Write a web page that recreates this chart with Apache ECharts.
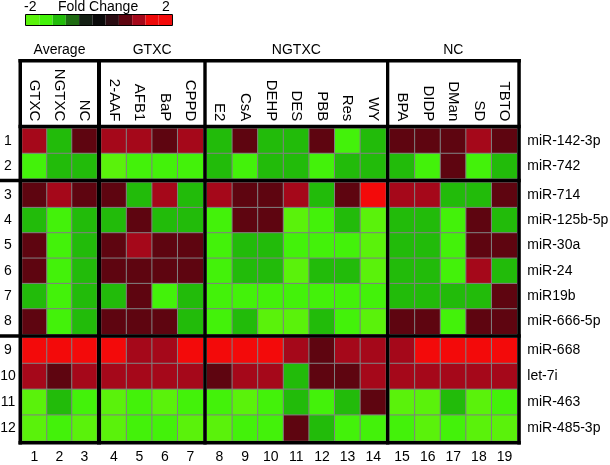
<!DOCTYPE html>
<html><head><meta charset="utf-8">
<script src="https://cdn.jsdelivr.net/npm/echarts@6/dist/echarts.min.js"></script>
<style>html,body{margin:0;padding:0;background:#fff}#c{width:610px;height:465px}</style>
</head><body><div id="c"></div>
<script>
// ---- data ----
const groupTitles = ['Average', 'GTXC', 'NGTXC', 'NC'];
const groupSizes = [3, 4, 7, 5];
const colNames = ['GTXC','NGTXC','NC','2-AAF','AFB1','BaP','CPPD','E2','CsA','DEHP','DES','PBB','Res','WY','BPA','DIDP','DMan','SD','TBTO'];
const colNumbers = ['1','2','3','4','5','6','7','8','9','10','11','12','13','14','15','16','17','18','19'];
const rowNumbers = ['1','2','3','4','5','6','7','8','9','10','11','12'];
const rowNames = ['miR-142-3p','miR-742','miR-714','miR-125b-5p','miR-30a','miR-24','miR19b','miR-666-5p','miR-668','let-7i','miR-463','miR-485-3p'];
const rowBands = [2, 6, 4];
const foldChange = [
  [1.12,-1.05,0.72,1.1,1.15,0.78,1.08,-1.1,0.7,-1.12,-1.08,0.75,-1.48,-1.05,0.7,0.74,0.68,1.16,0.72],
  [-1.42,-1.1,-1.05,-1.82,-1.5,-1.45,-1.4,-1.08,-1.52,-1.1,-1.15,-1.44,-1.06,-1.12,-1.1,-1.48,0.7,-1.46,-1.08],
  [0.7,1.12,0.74,0.72,-1.1,1.15,-1.08,1.1,0.7,0.76,1.08,-1.12,0.68,1.9,1.1,1.14,-1.06,-1.1,0.72],
  [-1.1,-1.48,-1.05,-1.12,0.7,-1.08,-1.1,-1.44,0.72,0.7,-1.8,-1.5,-1.12,-1.84,-1.06,-1.1,-1.46,0.7,-1.08],
  [0.72,-1.46,-1.1,0.7,1.12,0.74,0.68,-1.5,-1.08,-1.12,-1.42,-1.45,-1.48,-1.86,-1.1,-1.06,-1.44,0.7,0.74],
  [0.7,-1.5,-1.08,0.72,0.68,0.74,0.7,-1.46,-1.1,-1.05,-1.82,-1.1,-1.12,-1.8,-1.08,-1.1,-1.48,1.1,-1.06],
  [-1.12,-1.48,-1.06,-1.1,0.72,-1.5,-1.08,-1.46,-1.44,-1.5,-1.42,-1.46,-1.48,-1.45,-1.1,-1.08,-1.12,-1.06,0.7],
  [0.74,-1.5,-1.1,0.7,0.68,0.72,-1.06,-1.48,-1.12,-1.84,-1.8,-1.1,-1.46,-1.86,0.7,0.72,-1.5,0.68,0.7],
  [1.9,1.85,1.92,1.9,1.12,1.1,1.86,1.9,1.88,1.85,1.1,0.72,1.08,1.12,1.1,1.9,1.88,1.92,1.86],
  [1.12,0.7,1.1,1.08,1.12,1.1,1.14,0.72,1.1,1.12,-1.08,0.68,0.7,1.1,1.12,1.1,1.08,1.14,1.1],
  [-1.82,-1.1,-1.48,-1.8,-1.46,-1.84,-1.5,-1.45,-1.82,-1.48,-1.06,-1.5,-1.1,0.7,-1.8,-1.84,-1.08,-1.82,-1.46],
  [-1.8,-1.46,-1.82,-1.84,-1.5,-1.48,-1.8,-1.82,-1.46,-1.5,0.7,-1.1,-1.48,-1.45,-1.46,-1.84,-1.5,-1.82,-1.8]
];
const scaleMin = -2, scaleMax = 2;
const legendTitle = 'Fold Change';

// ---- style / layout ----
const FONT = "'Liberation Sans', Arial, Helvetica, sans-serif";
const palette = ['#5af20b','#43f20a','#22bb0a','#1f6b12','#142014','#0a0a0a','#2a0c12','#5e0510','#a5081a','#ee0a0a','#f30a0a'];
const colX = [[22, 97], [101, 203.3], [206.7, 386], [389.3, 517.3]];
const rowY = [[128.3, 178.7], [182.3, 334.3], [337.7, 441]];

const nBins = palette.length;
const step = (scaleMax - scaleMin) / nBins;
const pieces = palette.map((c, i) => {
  const p = { gte: scaleMin + i * step, color: c };
  if (i < nBins - 1) p.lt = scaleMin + (i + 1) * step; else p.lte = scaleMax;
  return p;
});

const grids = [], xAxes = [], yAxes = [], series = [];
let idx = 0, colStart = 0;
for (let g = 0; g < groupSizes.length; g++) {
  const cols = []; for (let c = colStart; c < colStart + groupSizes[g]; c++) cols.push(c);
  let rowStart = 0;
  for (let b = 0; b < rowBands.length; b++) {
    const rows = []; for (let r = rowStart; r < rowStart + rowBands[b]; r++) rows.push(r);
    const isTop = b === 0, isBottom = b === rowBands.length - 1;
    grids.push({ left: colX[g][0], top: rowY[b][0], width: colX[g][1] - colX[g][0], height: rowY[b][1] - rowY[b][0], outerBoundsMode: 'none', containLabel: false });
    xAxes.push({
      gridIndex: idx, type: 'category', position: isTop ? 'top' : 'bottom',
      data: isTop ? cols.map(c => colNames[c]) : cols.map(c => colNumbers[c]),
      show: isTop || isBottom,
      axisLine: { show: false }, axisTick: { show: false }, splitLine: { show: false },
      axisLabel: isTop
        ? { rotate: 90, margin: 7, fontSize: 15, color: '#000', fontFamily: FONT, interval: 0 }
        : { margin: 9, fontSize: 14, color: '#000', fontFamily: FONT, interval: 0 },
      name: isTop ? groupTitles[g] : '', nameLocation: 'middle', nameGap: 71,
      nameTextStyle: { fontSize: 14, color: '#000', fontFamily: FONT }
    });
    yAxes.push({
      gridIndex: idx, type: 'category', inverse: true,
      data: g === groupSizes.length - 1 ? rows.map(r => rowNames[r]) : rows.map(r => rowNumbers[r]),
      position: g === groupSizes.length - 1 ? 'right' : 'left',
      show: g === 0 || g === groupSizes.length - 1,
      axisLine: { show: false }, axisTick: { show: false }, splitLine: { show: false },
      axisLabel: g === 0
        ? { align: 'center', margin: 14, fontSize: 14, color: '#000', fontFamily: FONT, interval: 0 }
        : { align: 'left', margin: 10, fontSize: 14, color: '#000', fontFamily: FONT, interval: 0 }
    });
    const data = [];
    rows.forEach((r, ri) => cols.forEach((c, ci) => data.push([ci, ri, foldChange[r][c]])));
    series.push({
      type: 'heatmap', xAxisIndex: idx, yAxisIndex: idx, data,
      itemStyle: { borderColor: '#808080', borderWidth: 1 },
      emphasis: { disabled: true }, silent: true, animation: false
    });
    idx++; rowStart += rowBands[b];
  }
  colStart += groupSizes[g];
}

// thick frame lines
const graphic = [];
const L = 18.5, R = 520.8, T = 59, B = 444.5, lineW = 3.4;
const vx = [[L, colX[0][0]]];
for (let g = 0; g < colX.length - 1; g++) vx.push([colX[g][1], colX[g + 1][0]]);
vx.push([colX[colX.length - 1][1], R]);
vx.forEach(([a, b2]) => graphic.push({ type: 'rect', z: 100, shape: { x: a, y: T, width: b2 - a, height: B - T }, style: { fill: '#000' } }));
graphic.push({ type: 'rect', z: 100, shape: { x: L, y: T, width: R - L, height: lineW }, style: { fill: '#000' } });
graphic.push({ type: 'rect', z: 100, shape: { x: L, y: rowY[0][0] - 3.6, width: R - L, height: 3.6 }, style: { fill: '#000' } });
for (let b = 0; b < rowY.length - 1; b++)
  graphic.push({ type: 'rect', z: 100, shape: { x: 0, y: rowY[b][1], width: R, height: rowY[b + 1][0] - rowY[b][1] }, style: { fill: '#000' } });
graphic.push({ type: 'rect', z: 100, shape: { x: L, y: rowY[rowY.length - 1][1], width: R - L, height: B - rowY[rowY.length - 1][1] }, style: { fill: '#000' } });
// colour bar frame
const barL = 26, barT = 15, segW = 13.27, barH = 10;
graphic.push({ type: 'rect', z: 100, shape: { x: barL - 0.5, y: barT - 0.5, width: segW * nBins + 1, height: barH + 1 }, style: { fill: null, stroke: '#000', lineWidth: 1 } });

const tStyle = { fontSize: 14, fontWeight: 'normal', fontFamily: FONT, color: '#000' };
const titles = [
  { text: String(scaleMin), left: 24, top: 0, padding: 0, textStyle: tStyle },
  { text: legendTitle, left: 58, top: 0, padding: 0, textStyle: tStyle },
  { text: String(scaleMax), left: 162, top: 0, padding: 0, textStyle: tStyle }
];

const chart = echarts.init(document.getElementById('c'), null, { renderer: 'canvas' });
chart.setOption({
  animation: false,
  backgroundColor: '#fff',
  textStyle: { fontFamily: FONT },
  tooltip: { show: false },
  title: titles,
  grid: grids, xAxis: xAxes, yAxis: yAxes, series,
  visualMap: {
    type: 'piecewise', pieces, seriesIndex: series.map((s, i) => i),
    orient: 'horizontal', left: barL, top: barT, padding: 0,
    itemWidth: segW, itemHeight: barH, itemGap: 0, itemSymbol: 'rect',
    showLabel: false, selectedMode: false, hoverLink: false
  },
  graphic
});
</script></body></html>
